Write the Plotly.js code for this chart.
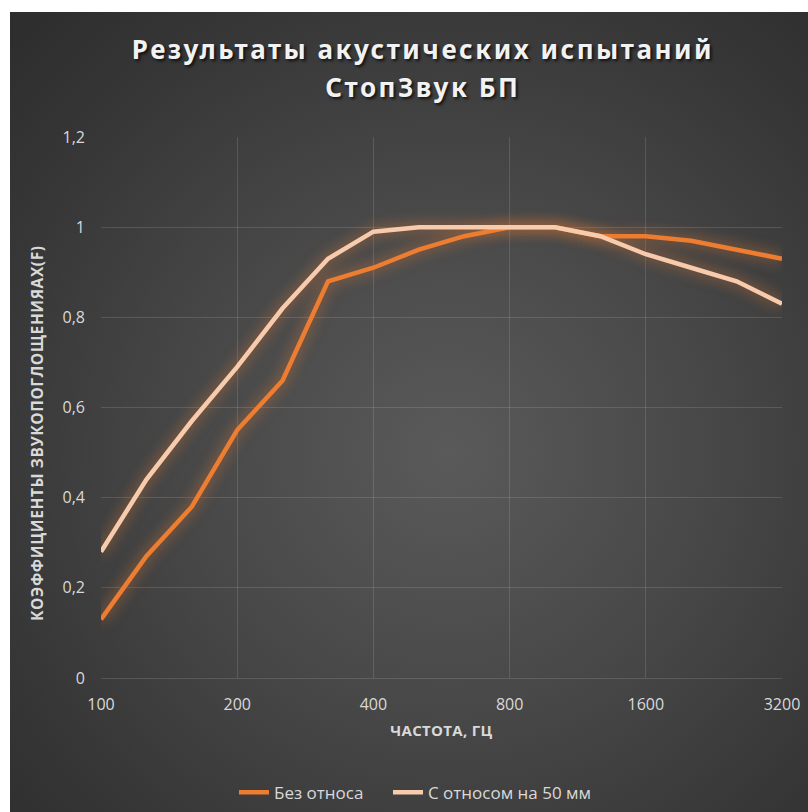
<!DOCTYPE html>
<html>
<head>
<meta charset="utf-8">
<script src="https://cdn.plot.ly/plotly-3.0.1.min.js"></script>
<style>
  html, body { margin: 0; padding: 0; background: #ffffff; }
  #chart {
    position: absolute; left: 10px; top: 12px; width: 798px; height: 800px;
    background: radial-gradient(ellipse 75% 75% at 55% 55%, #5a5a5a 0%, #474747 45%, #363636 80%, #2e2e2e 100%);
  }
  #chart .annotation-text.ttl { letter-spacing: 2.5px; }
  #chart .scatterlayer .trace .js-line { filter: drop-shadow(0 0 7px rgba(237,125,49,0.75)); }
</style>
</head>
<body>
<div id="chart"></div>
<script>
// Data (third-octave frequencies, Hz)
const frequencies = ["100","125","160","200","250","315","400","500","630","800","1000","1250","1600","2000","2500","3150"];
const tickCategories = ["100","200","400","800","1600","3150"];
const tickLabels = ["100","200","400","800","1600","3200"];
const seriesNames = ["Без относа", "С относом на 50 мм"];
const noGap = [0.13, 0.27, 0.38, 0.55, 0.66, 0.88, 0.91, 0.95, 0.98, 1.00, 1.00, 0.98, 0.98, 0.97, 0.95, 0.93];
const gap50 = [0.28, 0.44, 0.57, 0.69, 0.82, 0.93, 0.99, 1.00, 1.00, 1.00, 1.00, 0.98, 0.94, 0.91, 0.88, 0.83];
const titleLines = ["Результаты акустических испытаний", "СтопЗвук БП"];

const orange = "#ED7D31";
const pink = "#F8CBAD";

const traces = [
  { x: frequencies, y: noGap, name: seriesNames[0], type: "scatter", mode: "lines",
    line: { color: orange, width: 4.5 }, legend: "legend" },
  { x: frequencies, y: gap50, name: seriesNames[1], type: "scatter", mode: "lines",
    line: { color: pink, width: 4.5 }, legend: "legend2" }
];

const tickFont = { family: "Open Sans, sans-serif", size: 16, color: "#d9d9d9" };
const grid = "rgba(255,255,255,0.13)";
const titleFont = { family: "Noto Sans, sans-serif", size: 26, color: "#f2f2f2", weight: 700,
                    shadow: "2px 2px 3px rgba(0,0,0,0.7)" };

const plotH = 541, plotW = 681, mL = 91, plotBottom = 666;

function legendAt(realX) {
  return {
    orientation: "h", x: (realX - 10 - mL) / plotW, xanchor: "left", xref: "paper",
    y: 0.024, yanchor: "middle", yref: "container",
    font: { family: "Open Sans, sans-serif", size: 17, color: "#d9d9d9" },
    bgcolor: "rgba(0,0,0,0)"
  };
}

const layout = {
  width: 798, height: 800,
  paper_bgcolor: "rgba(0,0,0,0)", plot_bgcolor: "rgba(0,0,0,0)",
  separators: ", ",
  margin: { l: mL, r: 26, t: 125, b: 134, autoexpand: false },
  xaxis: {
    type: "category", categoryorder: "array", categoryarray: frequencies,
    range: [0, 15], automargin: false,
    tickmode: "array", tickvals: tickCategories, ticktext: tickLabels,
    showgrid: true, gridcolor: grid, gridwidth: 1,
    zeroline: false, showline: true, linecolor: grid,
    ticks: "", tickfont: tickFont, ticklabelstandoff: 12,
    fixedrange: true
  },
  yaxis: {
    range: [0, 1.2], dtick: 0.2, tick0: 0, automargin: false,
    showgrid: true, gridcolor: grid, gridwidth: 1,
    zeroline: false, showline: false,
    ticks: "", tickfont: tickFont, ticklabelstandoff: 15,
    fixedrange: true
  },
  annotations: [
    { text: titleLines[0], showarrow: false, xref: "paper", yref: "paper",
      x: (413 - mL) / plotW, xanchor: "center", y: (plotBottom - 37) / plotH, yanchor: "middle",
      font: titleFont },
    { text: titleLines[1], showarrow: false, xref: "paper", yref: "paper",
      x: (413 - mL) / plotW, xanchor: "center", y: (plotBottom - 75) / plotH, yanchor: "middle",
      font: titleFont },
    { text: "КОЭФФИЦИЕНТЫ ЗВУКОПОГЛОЩЕНИЯАХ(F)",
      textangle: -90, showarrow: false, xref: "paper", yref: "paper",
      x: -(mL - 27) / plotW, xanchor: "center",
      y: (plotBottom - 421) / plotH, yanchor: "middle",
      font: { family: "Open Sans, sans-serif", size: 15.5, color: "#d9d9d9", weight: 700 } },
    { text: "ЧАСТОТА, ГЦ", showarrow: false, xref: "paper", yref: "paper",
      x: 0.5, xanchor: "center", y: (plotBottom - 718) / plotH, yanchor: "middle",
      font: { family: "Open Sans, sans-serif", size: 15, color: "#d9d9d9", weight: 700 } }
  ],
  legend: legendAt(234),
  legend2: legendAt(388),
  showlegend: true
};

Plotly.newPlot("chart", traces, layout, { displayModeBar: false, staticPlot: true }).then(function () {
  const anns = document.querySelectorAll("#chart .annotation-text");
  if (anns[0]) anns[0].classList.add("ttl");
  if (anns[1]) anns[1].classList.add("ttl");
  if (anns[2]) anns[2].style.letterSpacing = "0.6px";
  if (anns[3]) anns[3].style.letterSpacing = "0.3px";
});
</script>
</body>
</html>
